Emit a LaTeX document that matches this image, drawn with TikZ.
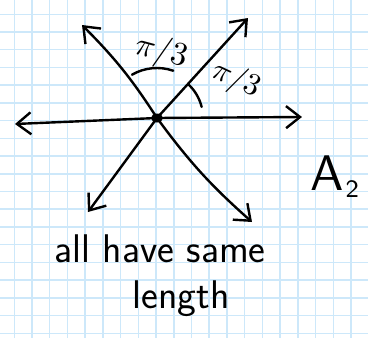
\documentclass[tikz,border=0pt]{standalone}
\usetikzlibrary{arrows.meta}
\definecolor{gridblue}{RGB}{205,232,250}
\tikzset{
  pen/.style={line width=2.4pt,line cap=round,line join=round},
  root/.style={pen,-{Straight Barb[length=14pt,width=22pt]}},
  gridline/.style={gridblue,line width=1.5pt}
}
\begin{document}
\begin{tikzpicture}[x=1pt,y=1pt]
  \useasboundingbox (0,0) rectangle (368,-338);
  \fill[white] (0,0) rectangle (368,-338);
  \foreach \k in {0,...,19}
    \draw[gridline] ({14.3+17.72*\k},0) -- ++(0,-338);
  \foreach \k in {0,...,18}
    \draw[gridline] (0,{-14.3-17.72*\k}) -- ++(368,0);
  \coordinate (O) at (157,-118);
  \coordinate (R) at (302,-117);
  \coordinate (L) at (15,-124);
  \coordinate (UL) at (82,-25);
  \coordinate (UR) at (248,-18);
  \coordinate (DL) at (88,-212);
  \coordinate (DR) at (252,-222);
  \draw[root] (O) -- (R);
  \draw[root] (O) -- (L);
  \draw[root] (O) to[bend right=6] (UL);
  \draw[root] (O) -- (UR);
  \draw[root] (O) -- (DL);
  \draw[root] (O) to[bend right=6] (DR);
  \fill (O) ellipse[x radius=6,y radius=4.5];
  \draw[pen] (O) ++(71:50) arc[start angle=71,end angle=120,radius=50];
  \draw[pen] (O) ++(14:46) arc[start angle=14,end angle=47,radius=46];
  \node[rotate=-15,scale=3.3,inner sep=0pt] (ang1) at (161,-52) {$\pi/3$};
  \node[rotate=-25,scale=3.1,inner sep=0pt] (ang2) at (236,-80) {$\pi/3$};
  \node[anchor=base west,scale=5,inner sep=0pt] (name) at (309,-190) {$\mathsf{A}_{\mkern1mu\scriptscriptstyle\mathsf{2}}$};
  \node[anchor=base,font=\sffamily\fontsize{40}{48}\selectfont] (line1) at (160,-262) {all have same};
  \node[anchor=base,font=\sffamily\fontsize{40}{48}\selectfont] (line2) at (181,-308) {length};
\end{tikzpicture}
\end{document}
